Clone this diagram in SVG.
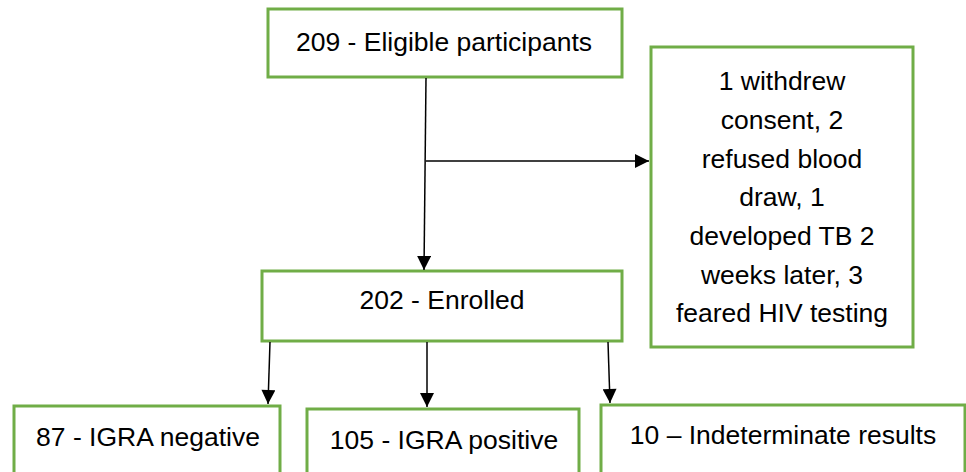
<svg xmlns="http://www.w3.org/2000/svg" width="966" height="472" viewBox="0 0 966 472">
<defs>
<style>
.box{fill:#fff;stroke:#70AD47;stroke-width:3}
.t{font-family:"Liberation Sans",Arial,sans-serif;font-size:26.5px;fill:#000;text-anchor:middle}
.c{stroke:#000;stroke-width:1.5;fill:none}
</style>
<marker id="ah" viewBox="0 0 10 10" refX="10" refY="5" markerWidth="15" markerHeight="14" markerUnits="userSpaceOnUse" orient="auto">
<path d="M0,0 L10,5 L0,10 z" fill="#000"/>
</marker>
</defs>
<rect width="966" height="472" fill="#fff"/>
<g id="n1"><rect class="box" x="268" y="9" width="354" height="68"/><text class="t" x="444" y="51">209 - Eligible participants</text></g>
<g id="n2"><rect class="box" x="651" y="47" width="262" height="300"/>
<text class="t" x="782" y="90">1 withdrew</text>
<text class="t" x="782" y="129">consent, 2</text>
<text class="t" x="782" y="168">refused blood</text>
<text class="t" x="782" y="206">draw, 1</text>
<text class="t" x="782" y="245">developed TB 2</text>
<text class="t" x="782" y="284">weeks later, 3</text>
<text class="t" x="782" y="322">feared HIV testing</text>
</g>
<g id="n3"><rect class="box" x="262" y="271" width="360" height="70"/><text class="t" x="442" y="309">202 - Enrolled</text></g>
<g id="n4"><rect class="box" x="14" y="406" width="266" height="80"/><text class="t" x="148" y="446">87 - IGRA negative</text></g>
<g id="n5"><rect class="box" x="307" y="409" width="272" height="80"/><text class="t" x="444" y="449">105 - IGRA positive</text></g>
<g id="n6"><rect class="box" x="601" y="405" width="364" height="80"/><text class="t" x="783" y="444">10 – Indeterminate results</text></g>
<g id="connectors">
<line class="c" x1="426" y1="78" x2="424" y2="270" marker-end="url(#ah)"/>
<line class="c" x1="426" y1="161" x2="649" y2="161" marker-end="url(#ah)"/>
<line class="c" x1="270" y1="342" x2="268" y2="404" marker-end="url(#ah)"/>
<line class="c" x1="427" y1="342" x2="427" y2="407" marker-end="url(#ah)"/>
<line class="c" x1="608" y1="342" x2="610" y2="403" marker-end="url(#ah)"/>
</g>
</svg>
